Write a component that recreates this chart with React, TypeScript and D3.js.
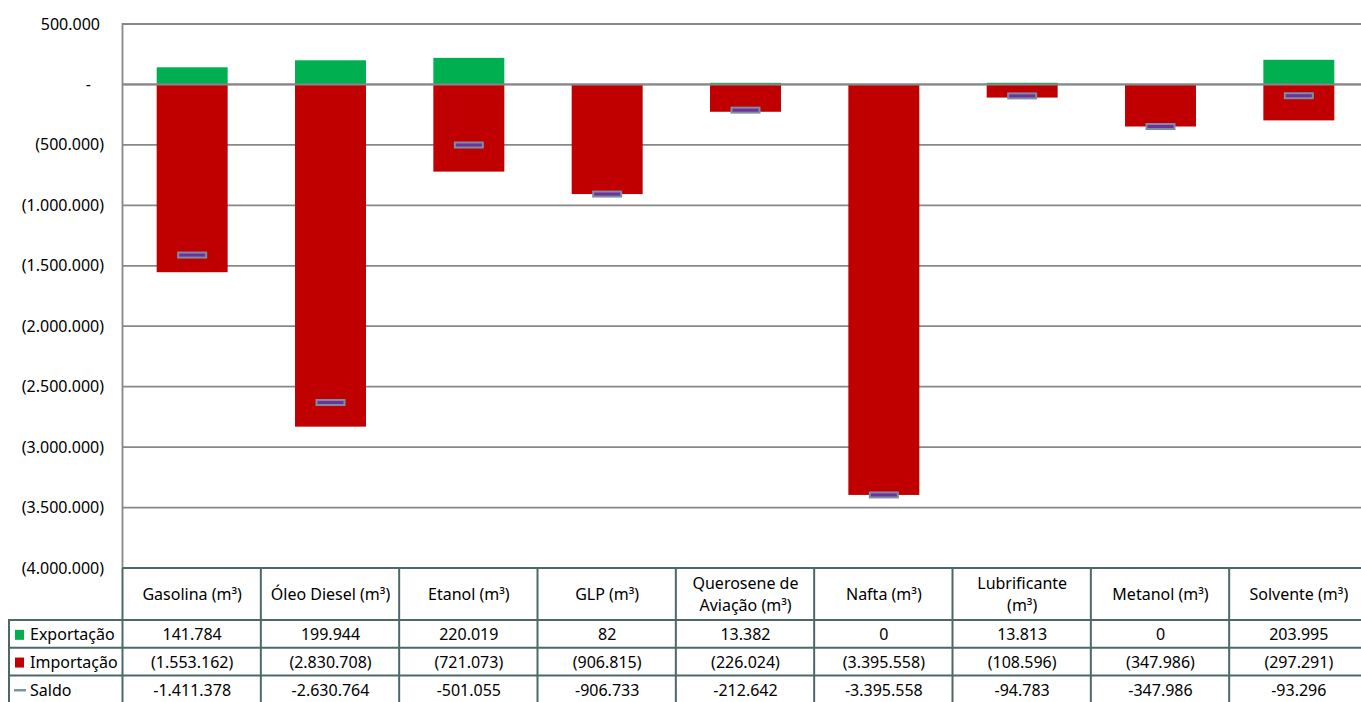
import React, { useEffect, useRef } from "react";
import * as d3 from "d3";

const categories = [
  "Gasolina (m³)",
  "Óleo Diesel (m³)",
  "Etanol (m³)",
  "GLP (m³)",
  "Querosene de Aviação (m³)",
  "Nafta (m³)",
  "Lubrificante (m³)",
  "Metanol (m³)",
  "Solvente (m³)",
];

// header lines as shown in the table (some wrap)
const headerLines = [
  ["Gasolina (m³)"],
  ["Óleo Diesel (m³)"],
  ["Etanol (m³)"],
  ["GLP (m³)"],
  ["Querosene de", "Aviação (m³)"],
  ["Nafta (m³)"],
  ["Lubrificante", "(m³)"],
  ["Metanol (m³)"],
  ["Solvente (m³)"],
];

const exportacao = [141784, 199944, 220019, 82, 13382, 0, 13813, 0, 203995];
const importacao = [
  -1553162, -2830708, -721073, -906815, -226024, -3395558, -108596, -347986, -297291,
];
const saldo = [
  -1411378, -2630764, -501055, -906733, -212642, -3395558, -94783, -347986, -93296,
];

const yTicks = [500000, 0, -500000, -1000000, -1500000, -2000000, -2500000, -3000000, -3500000, -4000000];

const seriesNames = ["Exportação", "Importação", "Saldo"];

const GREEN = "#00B050";
const RED = "#C00000";
const GRID = "#878787";
const TABLE = "#4E6868";
const FONT = "'Noto Sans', 'Open Sans', sans-serif";

const locale = d3.formatLocale({
  decimal: ",",
  thousands: ".",
  grouping: [3],
  currency: ["", ""],
});
const fmtInt = locale.format(",d");

// Excel-like accounting format: positives plain, negatives in parentheses
const fmtAcc = (v: number) => (v === 0 ? "0" : v < 0 ? `(${fmtInt(-v)})` : fmtInt(v));
const fmtSaldo = (v: number) => (v < 0 ? "-" + fmtInt(-v) : fmtInt(v));

const App: React.FC = () => {
  const svgRef = useRef<SVGSVGElement | null>(null);

  useEffect(() => {
    if (!svgRef.current) return;

    const width = 1361;
    const height = 702;
    const plotLeft = 123;
    const plotRight = 1368;
    const plotTop = 24;
    const plotBottom = 568;
    const headerBottom = 620;
    const rowH = 27.7;
    const tableLeft = 8;

    const svg = d3
      .select(svgRef.current)
      .attr("viewBox", [0, 0, width, height])
      .attr("width", width)
      .attr("height", height)
      .style("font-family", FONT);

    const x = d3
      .scaleBand<string>()
      .domain(categories)
      .range([plotLeft, plotRight])
      .paddingInner(0.487)
      .paddingOuter(0.2435);

    const y = d3.scaleLinear().domain([-4000000, 500000]).range([plotBottom, plotTop]);

    const step = x.step();

    // Gridlines
    svg
      .append("g")
      .selectAll("line")
      .data(yTicks.filter((t) => t !== -4000000))
      .join("line")
      .attr("x1", plotLeft)
      .attr("x2", width)
      .attr("y1", (d) => y(d))
      .attr("y2", (d) => y(d))
      .attr("stroke", GRID)
      .attr("stroke-width", 1.8);

    // Y axis line
    svg
      .append("line")
      .attr("x1", plotLeft - 0.5)
      .attr("x2", plotLeft - 0.5)
      .attr("y1", plotTop - 1)
      .attr("y2", plotBottom)
      .attr("stroke", GRID)
      .attr("stroke-width", 1.8);

    // Y tick labels
    svg
      .append("g")
      .selectAll("text")
      .data(yTicks)
      .join("text")
      .attr("x", (d) => (d === 0 ? 91 : d < 0 ? 104 : 100))
      .attr("y", (d) => y(d))
      .attr("dy", "0.35em")
      .attr("text-anchor", "end")
      .attr("font-size", 16)
      .attr("fill", "#000")
      .text((d) => (d === 0 ? "-" : fmtAcc(d)));

    // Bars: export (positive)
    svg
      .append("g")
      .selectAll("rect")
      .data(categories)
      .join("rect")
      .attr("x", (d) => x(d)!)
      .attr("width", x.bandwidth())
      .attr("y", (_, i) => y(exportacao[i]))
      .attr("height", (_, i) => y(0) - y(exportacao[i]))
      .attr("fill", GREEN);

    // Bars: import (negative)
    svg
      .append("g")
      .selectAll("rect")
      .data(categories)
      .join("rect")
      .attr("x", (d) => x(d)!)
      .attr("width", x.bandwidth())
      .attr("y", y(0))
      .attr("height", (_, i) => y(importacao[i]) - y(0))
      .attr("fill", RED);

    // zero line over the bars
    svg
      .append("line")
      .attr("x1", plotLeft)
      .attr("x2", width)
      .attr("y1", y(0))
      .attr("y2", y(0))
      .attr("stroke", GRID)
      .attr("stroke-width", 2);

    // Saldo markers
    svg
      .append("g")
      .selectAll("rect")
      .data(categories)
      .join("rect")
      .attr("x", (d) => x(d)! + x.bandwidth() / 2 - 14)
      .attr("y", (_, i) => y(saldo[i]) - 2.5)
      .attr("width", 28)
      .attr("height", 5)
      .attr("fill", "#7030A0")
      .attr("stroke", "#7C8FA0")
      .attr("stroke-width", 2);

    // Data table
    const table = svg.append("g");
    const rowsBottom = headerBottom + rowH * 3 + 2;

    // horizontal lines
    table
      .append("line")
      .attr("x1", plotLeft - 0.5)
      .attr("x2", width)
      .attr("y1", plotBottom)
      .attr("y2", plotBottom)
      .attr("stroke", TABLE)
      .attr("stroke-width", 2);
    [0, 1, 2].forEach((r) => {
      table
        .append("line")
        .attr("x1", tableLeft)
        .attr("x2", width)
        .attr("y1", headerBottom + r * rowH)
        .attr("y2", headerBottom + r * rowH)
        .attr("stroke", TABLE)
        .attr("stroke-width", 2);
    });

    // vertical lines
    table
      .append("line")
      .attr("x1", tableLeft + 1)
      .attr("x2", tableLeft + 1)
      .attr("y1", headerBottom)
      .attr("y2", rowsBottom)
      .attr("stroke", TABLE)
      .attr("stroke-width", 2);
    d3.range(categories.length).forEach((i) => {
      const xx = plotLeft - 0.5 + i * step;
      table
        .append("line")
        .attr("x1", xx)
        .attr("x2", xx)
        .attr("y1", plotBottom)
        .attr("y2", rowsBottom)
        .attr("stroke", TABLE)
        .attr("stroke-width", 2);
    });

    // header labels
    categories.forEach((c, i) => {
      const cx = x(c)! + x.bandwidth() / 2;
      const lines = headerLines[i];
      const mid = (plotBottom + headerBottom) / 2;
      lines.forEach((ln, j) => {
        table
          .append("text")
          .attr("x", cx)
          .attr("y", mid + (j - (lines.length - 1) / 2) * 22)
          .attr("dy", "0.35em")
          .attr("text-anchor", "middle")
          .attr("font-size", 16)
          .text(ln);
      });
    });

    // rows
    const rows = [
      exportacao.map(fmtAcc),
      importacao.map(fmtAcc),
      saldo.map(fmtSaldo),
    ];
    rows.forEach((vals, r) => {
      const cy = headerBottom + r * rowH + rowH / 2 + 1;
      // legend key
      if (r < 2) {
        table
          .append("rect")
          .attr("x", 15)
          .attr("y", cy - 5)
          .attr("width", 9)
          .attr("height", 10)
          .attr("fill", r === 0 ? GREEN : RED);
      } else {
        table
          .append("line")
          .attr("x1", 14)
          .attr("x2", 26)
          .attr("y1", cy)
          .attr("y2", cy)
          .attr("stroke", "#7C95A6")
          .attr("stroke-width", 2.5);
      }
      table
        .append("text")
        .attr("x", 30)
        .attr("y", cy)
        .attr("dy", "0.35em")
        .attr("font-size", 16)
        .text(seriesNames[r]);
      vals.forEach((v, i) => {
        table
          .append("text")
          .attr("x", x(categories[i])! + x.bandwidth() / 2)
          .attr("y", cy)
          .attr("dy", "0.35em")
          .attr("text-anchor", "middle")
          .attr("font-size", 16)
          .text(v);
      });
    });

    return () => {
      svg.selectAll("*").remove();
    };
  }, []);

  return (
    <div style={{ position: "absolute", left: 0, top: 0, background: "#fff" }}>
      <svg ref={svgRef} style={{ display: "block" }}></svg>
    </div>
  );
};

export default App;
